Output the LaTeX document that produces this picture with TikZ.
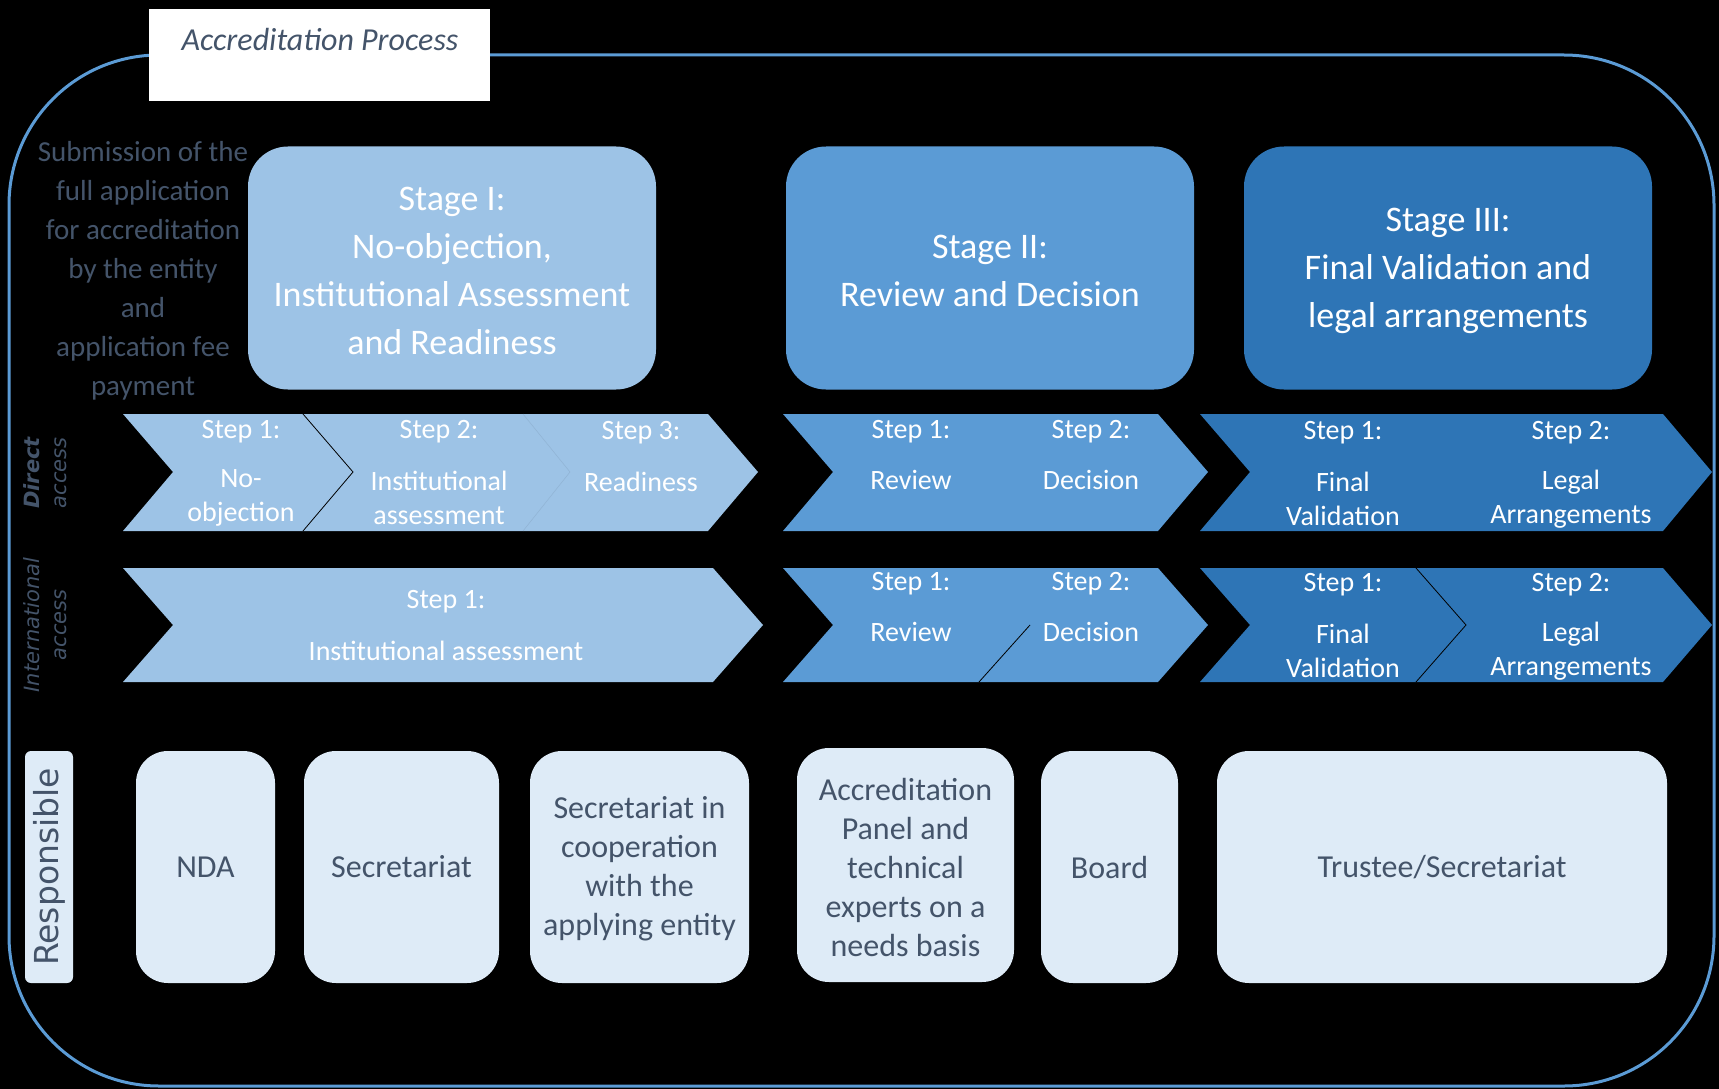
\documentclass[tikz,border=0pt]{standalone}
\usepackage{fontspec}
\setmainfont{Carlito}
\newfontfamily\dejavu{DejaVu Sans}
\definecolor{stageone}{HTML}{9DC3E6}
\definecolor{stagetwo}{HTML}{5B9BD5}
\definecolor{stagethree}{HTML}{2E75B6}
\definecolor{resp}{HTML}{DEEBF7}
\definecolor{slate}{HTML}{44546A}
\tikzset{
  stagebox/.style={rounded corners=40pt,minimum width=408pt,minimum height=243pt,text=white,align=center,font=\fontsize{36}{48}\selectfont},
  respbox/.style={fill=resp,rounded corners=32pt,minimum height=232pt,text=slate,align=center,font=\fontsize{32}{39}\selectfont},
  steptxt/.style={text=white,align=center,font=\fontsize{28}{34}\selectfont,yshift=-2pt},
  sidetxt/.style={text=slate,rotate=90,font=\dejavu\fontsize{21}{25}\selectfont\itshape},
  sep/.style={black,line width=0.8pt}
}
\begin{document}
\begin{tikzpicture}[x=1pt,y=-1pt]
			\fill[black](0,0) rectangle (1719,1089);
			\draw[stagetwo,line width=3pt,rounded corners=150pt](9,55) rectangle (1714,1086);
			\fill[white](149,9) rectangle (490,101);
			\node(title) at(320,40){\fontsize{32}{38}\selectfont\itshape\color{slate}Accreditation Process};
			\node[align=center,text=slate,font=\fontsize{29}{39}\selectfont](submit) at(143,271){Submission of the\\full application\\for accreditation\\by the entity\\and\\application fee\\payment};
			% stages
			\node[stagebox,fill=stageone](stageI) at(452,268){};
			\node[text=white,align=center,font=\fontsize{36}{48}\selectfont](stageIt) at(452,271){Stage I:\\No-objection,\\Institutional Assessment\\and Readiness};
			\node[stagebox,fill=stagetwo](stageII) at(990,268){};
			\node[text=white,align=center,font=\fontsize{36}{48}\selectfont](stageIIt) at(990,271){Stage II:\\Review and Decision};
			\node[stagebox,fill=stagethree](stageIII) at(1448,268){};
			\node[text=white,align=center,font=\fontsize{36}{48}\selectfont](stageIIIt) at(1448,271){Stage III:\\Final Validation and\\legal arrangements};
			% direct access
			\fill[stageone](123,414)--(708,414)--(758,472)--(708,531)--(123,531)--(173,472)--cycle;
			\fill[stagetwo](783,414)--(1158,414)--(1208,472)--(1158,531)--(783,531)--(833,472)--cycle;
			\fill[stagethree](1200,414)--(1663,414)--(1712,472)--(1663,531)--(1200,531)--(1250,472)--cycle;
			\draw[sep](303,414)--(353,472)--(303,531);
			\draw[stageone!93!black,line width=0.6pt](523,414)--(570,472)--(523,531);
			% international access
			\fill[stageone](123,568)--(713,568)--(763,625)--(713,682)--(123,682)--(173,625)--cycle;
			\fill[stagetwo](783,568)--(1158,568)--(1208,625)--(1158,682)--(783,682)--(833,625)--cycle;
			\fill[stagethree](1200,568)--(1663,568)--(1712,625)--(1663,682)--(1200,682)--(1250,625)--cycle;
			\draw[sep](1030,625)--(979,682);
			\draw[sep](1416,568)--(1466,625)--(1416,682);
			\node[sidetxt,font=\dejavu\fontsize{21}{25}\selectfont\bfseries\itshape](direct) at(32,473){Direct};
			\node[sidetxt](directb) at(61,473){access};
			\node[sidetxt](intl) at(32,625){International};
			\node[sidetxt](intlb) at(61,625){access};
			% step labels, direct
			\node[steptxt](d1) at(241,430){Step 1:};
			\node[steptxt](d1t) at(241,496){No-\\objection};
			\node[steptxt](d2) at(439,430){Step 2:};
			\node[steptxt](d2t) at(439,496){Institutional\\assessment};
			\node[steptxt](d3) at(641,431){Step 3:};
			\node[steptxt](d3t) at(641,480){Readiness};
			\node[steptxt](d4) at(911,430){Step 1:};
			\node[steptxt](d4t) at(911,478){Review};
			\node[steptxt](d5) at(1091,430){Step 2:};
			\node[steptxt](d5t) at(1091,478){Decision};
			\node[steptxt](d6) at(1343,431){Step 1:};
			\node[steptxt](d6t) at(1343,497){Final\\Validation};
			\node[steptxt](d7) at(1571,431){Step 2:};
			\node[steptxt](d7t) at(1571,497){Legal\\Arrangements};
			% step labels, international
			\node[steptxt](i1) at(446,600){Step 1:};
			\node[steptxt](i1t) at(446,649){Institutional assessment};
			\node[steptxt](i2) at(911,582){Step 1:};
			\node[steptxt](i2t) at(911,630){Review};
			\node[steptxt](i3) at(1091,582){Step 2:};
			\node[steptxt](i3t) at(1091,630){Decision};
			\node[steptxt](i4) at(1343,583){Step 1:};
			\node[steptxt](i4t) at(1343,649){Final\\Validation};
			\node[steptxt](i5) at(1571,583){Step 2:};
			\node[steptxt](i5t) at(1571,649){Legal\\Arrangements};
			% responsible
			\node[fill=resp,rounded corners=6pt,rotate=90,minimum width=232pt,minimum height=48pt,text=slate,font=\dejavu\fontsize{33}{40}\selectfont](resp) at(49,867){Responsible};
			\node[respbox,minimum width=139pt](nda) at(205.5,867){NDA};
			\node[respbox,minimum width=195pt](secr) at(401.5,867){Secretariat};
			\node[respbox,minimum width=219pt](coop) at(639.5,867){};
			\node[align=center,text=slate,font=\fontsize{32}{39}\selectfont](coopt) at(639.5,869){Secretariat in\\cooperation\\with the\\applying entity};
			\node[respbox,minimum width=217pt,minimum height=234pt](panel) at(905.5,865){};
			\node[align=center,text=slate,font=\fontsize{32}{39}\selectfont](panelt) at(905.5,867){Accreditation\\Panel and\\technical\\experts on a\\needs basis};
			\node[respbox,minimum width=137pt](board) at(1109.5,867){Board};
			\node[respbox,minimum width=450pt](trustee) at(1442,867){Trustee/Secretariat};
\end{tikzpicture}
\end{document}
